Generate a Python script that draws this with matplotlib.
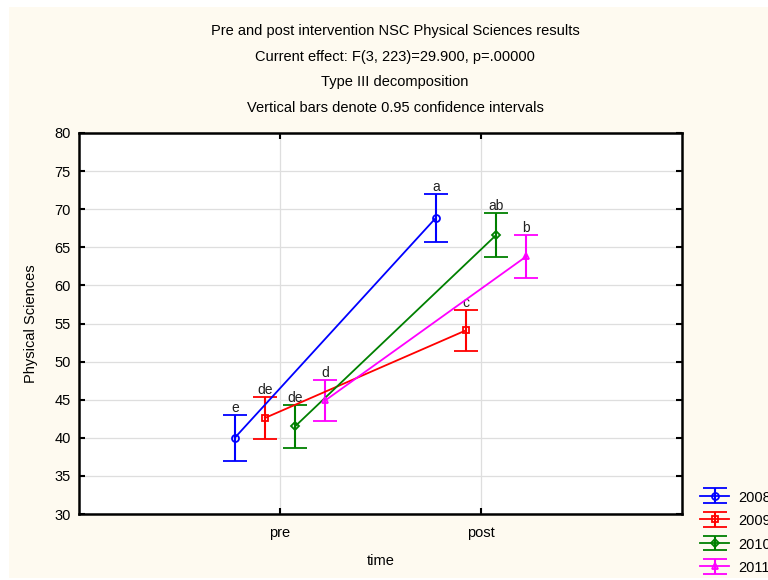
import matplotlib.pyplot as plt
from matplotlib.patches import Rectangle

plt.rcParams['font.family'] = ['Liberation Sans Narrow', 'Liberation Sans', 'DejaVu Sans']

# NSC Physical Sciences means with 95% CI half-widths, pre and post intervention
times = ['pre', 'post']
years = ['2008', '2009', '2010', '2011']
means = {
    '2008': [40.0, 68.85],
    '2009': [42.6, 54.1],
    '2010': [41.5, 66.6],
    '2011': [44.9, 63.8],
}
ci = {
    '2008': [3.05, 3.1],
    '2009': [2.8, 2.65],
    '2010': [2.85, 2.85],
    '2011': [2.75, 2.8],
}
letters = {
    '2008': ['e', 'a'],
    '2009': ['de', 'c'],
    '2010': ['de', 'ab'],
    '2011': ['d', 'b'],
}
colors = ['#0000ff', '#ff0000', '#008000', '#ff00ff']
markers = ['o', 's', 'D', '^']
offsets = [-0.225, -0.075, 0.075, 0.225]

fig = plt.figure(figsize=(7.68, 5.8), dpi=100, facecolor='white')
fig.add_artist(Rectangle((9 / 768, 2 / 580), 1, 571 / 580, transform=fig.transFigure,
                         facecolor='#fefaf0', edgecolor='none', zorder=-10))

ax = fig.add_axes([79 / 768, 1 - 514 / 580, 603 / 768, 381 / 580])
ax.set_facecolor('white')

handles = []
for i, yr in enumerate(years):
    xs = [1 + offsets[i], 2 + offsets[i]]
    eb = ax.errorbar(xs, means[yr], yerr=ci[yr], color=colors[i], marker=markers[i],
                     markersize=5 if markers[i] != 'D' else 4.2, markerfacecolor='none',
                     markeredgewidth=1.3, lw=1.3, elinewidth=1.5, capsize=8.5,
                     capthick=1.5, label=yr, zorder=3)
    handles.append(eb)
    for x, m, c, lab in zip(xs, means[yr], ci[yr], letters[yr]):
        ax.annotate(lab, (x, m + c), xytext=(0, 0), textcoords='offset points',
                    ha='center', va='bottom', fontsize=10, color='#222222')

ax.set_xlim(0, 3)
ax.set_ylim(30, 80)
ax.set_xticks([1, 2])
ax.set_xticklabels(times)
ax.set_yticks(range(30, 81, 5))
ax.grid(True, color='#dedede', lw=0.9, zorder=0)
ax.set_axisbelow(True)
ax.tick_params(direction='in', length=4, width=1.5, top=True, right=True,
               labelsize=10.5, pad=6)
ax.tick_params(axis='x', pad=9)
for s in ax.spines.values():
    s.set_linewidth(1.8)

ax.set_xlabel('time', fontsize=10.5)
ax.set_ylabel('Physical Sciences', fontsize=10.5)
ax.xaxis.set_label_coords(0.5, -0.105)
ax.yaxis.set_label_coords(-0.068, 0.5)

title_lines = ['Pre and post intervention NSC Physical Sciences results',
               'Current effect: F(3, 223)=29.900, p=.00000',
               'Type III decomposition',
               'Vertical bars denote 0.95 confidence intervals']
for k, line in enumerate(title_lines):
    fig.text(395 / 768, 1 - (31 + 25.6 * k) / 580, line, ha='center', va='center',
             fontsize=10.5)

fig.legend(handles=handles, labels=years, loc='upper left', frameon=False,
           bbox_to_anchor=(700 / 768, 1 - 490 / 580), bbox_transform=fig.transFigure,
           fontsize=10.5, handlelength=2.0, handleheight=1.0, handletextpad=0.6,
           labelspacing=0.62, borderpad=0, borderaxespad=0)

fig.savefig('out.png', dpi=100, facecolor=fig.get_facecolor())
